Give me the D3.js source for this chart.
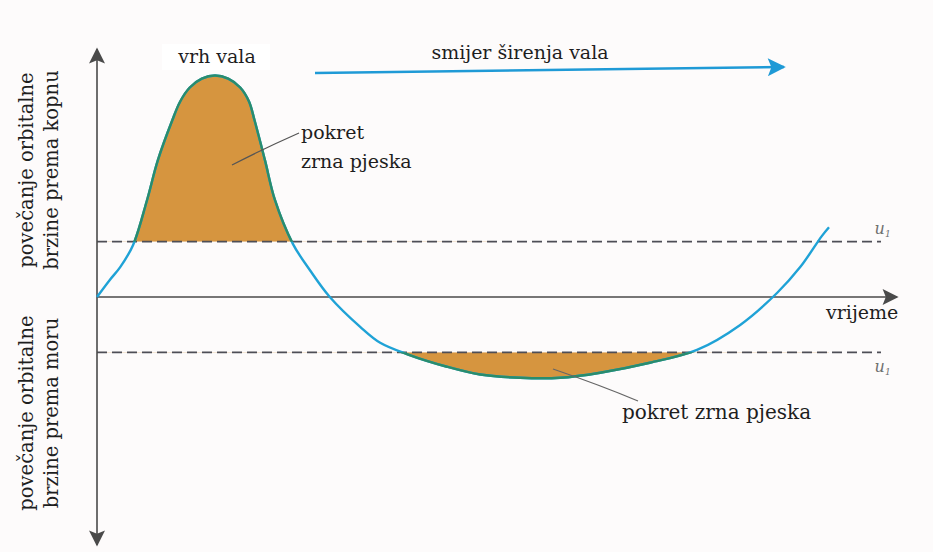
<!DOCTYPE html>
<html>
<head>
<meta charset="utf-8">
<script src="https://cdn.jsdelivr.net/npm/d3@7"></script>
<style>
  body { margin: 0; background: #fdfbfb; }
</style>
</head>
<body>
<script>
// wave orbital velocity vs time
var time = [0, 1.6, 2.9, 4.5, 6.25, 7.6, 9.4, 10.4, 11.6, 13.1, 14.75, 16.4, 17.9, 19.0, 19.7, 21, 22.25, 24.5,
            26.6, 29.1, 32.9, 35.4, 38.9, 43.75, 47.9, 52.9, 57.9, 62.9, 69.1, 75, 80.4, 85, 87.9, 90.6, 91.5];
var velocity = [0, 0.077, 0.135, 0.234, 0.437, 0.617, 0.797, 0.883, 0.946, 0.986, 1.0, 0.986, 0.946, 0.883, 0.797, 0.617, 0.437, 0.239,
                0.122, 0, -0.135, -0.207, -0.26, -0.315, -0.35, -0.365, -0.365, -0.342, -0.297, -0.239, -0.126, 0.018, 0.135, 0.275, 0.315];
var threshold = [0.25, -0.25];   // +u1 / -u1
var axisLabels = {
  x: "vrijeme",
  yUp: ["povečanje orbitalne", "brzine prema kopnu"],
  yDown: ["povečanje orbitalne", "brzine prema moru"]
};
var crestLabel = "vrh vala";
var directionLabel = "smijer širenja vala";
var sandLabelTop = ["pokret", "zrna pjeska"];
var sandLabelBottom = "pokret zrna pjeska";

var width = 933, height = 552;
var serif = "'DejaVu Serif', 'Liberation Serif', serif";
var ink = "#1e1e1e";
var data = time.map(function(t, i){ return {t: t, v: velocity[i]}; });

var svg = d3.select("body").append("svg")
    .attr("width", width)
    .attr("height", height)
    .attr("font-family", serif);

var x = d3.scaleLinear().domain([0, 100]).range([97, 897]);
var y = d3.scaleLinear().domain([-1.12, 1.12]).range([545, 49]);

var defs = svg.append("defs");
function arrow(id, color, w, h) {
  defs.append("marker")
      .attr("id", id)
      .attr("viewBox", "0 0 10 10")
      .attr("refX", 9).attr("refY", 5)
      .attr("markerWidth", w).attr("markerHeight", h)
      .attr("markerUnits", "userSpaceOnUse")
      .attr("orient", "auto")
    .append("path")
      .attr("d", "M0,0 L10,5 L0,10 L2,5 Z")
      .attr("fill", color);
}
arrow("arr-dark", "#4a4a4a", 20, 16);
arrow("arr-blue", "#1f9ad6", 28, 18);

// clip regions: above +u1 (crest only) and below -u1
defs.append("clipPath").attr("id", "clip-up")
  .append("rect").attr("x", 0).attr("y", 0)
  .attr("width", x(50)).attr("height", y(threshold[0]));
defs.append("clipPath").attr("id", "clip-down")
  .append("rect").attr("x", 0).attr("y", y(threshold[1]))
  .attr("width", width).attr("height", height - y(threshold[1]));

var curve = d3.curveCatmullRom.alpha(0.5);

// sand movement fills
threshold.forEach(function(u, i){
  svg.append("path")
      .datum(data)
      .attr("clip-path", "url(#" + (i === 0 ? "clip-up" : "clip-down") + ")")
      .attr("fill", "#d6953f")
      .attr("d", d3.area()
          .x(function(d){ return x(d.t); })
          .y0(y(u))
          .y1(function(d){ return y(d.v); })
          .curve(curve));
});

// threshold dashed lines
threshold.forEach(function(u){
  svg.append("line")
      .attr("x1", x(0)).attr("x2", x(98))
      .attr("y1", y(u)).attr("y2", y(u))
      .attr("stroke", "#4e4e56")
      .attr("stroke-width", 1.6)
      .attr("stroke-dasharray", "10,5");
});

// u1 labels
[[threshold[0], -8], [threshold[1], 20]].forEach(function(p){
  var t = svg.append("text")
      .attr("x", x(97.2))
      .attr("y", y(p[0]) + p[1])
      .attr("font-size", 16)
      .attr("font-style", "italic")
      .attr("fill", "#707070")
      .text("u");
  t.append("tspan").attr("font-size", 9).attr("dy", 3).text("1");
});

// axes
svg.append("line")
    .attr("x1", x(0)).attr("x2", x(100))
    .attr("y1", y(0)).attr("y2", y(0))
    .attr("stroke", "#4a4a4a").attr("stroke-width", 1.6)
    .attr("marker-end", "url(#arr-dark)");
svg.append("line")
    .attr("x1", x(0)).attr("x2", x(0))
    .attr("y1", y(0)).attr("y2", y(1.12))
    .attr("stroke", "#4a4a4a").attr("stroke-width", 1.6)
    .attr("marker-end", "url(#arr-dark)");
svg.append("line")
    .attr("x1", x(0)).attr("x2", x(0))
    .attr("y1", y(0)).attr("y2", y(-1.12))
    .attr("stroke", "#4a4a4a").attr("stroke-width", 1.6)
    .attr("marker-end", "url(#arr-dark)");

// velocity curve, blue, with greenish edge over the fills
var line = d3.line()
    .x(function(d){ return x(d.t); })
    .y(function(d){ return y(d.v); })
    .curve(curve);
svg.append("path").datum(data)
    .attr("fill", "none")
    .attr("stroke", "#1fa2d6")
    .attr("stroke-width", 2.4)
    .attr("d", line);
["clip-up", "clip-down"].forEach(function(c){
  svg.append("path").datum(data)
      .attr("clip-path", "url(#" + c + ")")
      .attr("fill", "none")
      .attr("stroke", "#2a8c6c")
      .attr("stroke-width", 2.4)
      .attr("d", line);
});

// wave direction arrow
svg.append("line")
    .attr("x1", 315).attr("y1", 73)
    .attr("x2", 784).attr("y2", 67)
    .attr("stroke", "#1f9ad6").attr("stroke-width", 2.6)
    .attr("marker-end", "url(#arr-blue)");
svg.append("text")
    .attr("x", 520).attr("y", 59)
    .attr("text-anchor", "middle")
    .attr("font-size", 19)
    .attr("fill", ink)
    .text(directionLabel);

// crest label in white box
svg.append("rect")
    .attr("x", 162).attr("y", 44)
    .attr("width", 108).attr("height", 26)
    .attr("fill", "#ffffff");
svg.append("text")
    .attr("x", 217).attr("y", 63)
    .attr("text-anchor", "middle")
    .attr("font-size", 19)
    .attr("fill", ink)
    .text(crestLabel);

// x axis label
svg.append("text")
    .attr("x", 826).attr("y", 319)
    .attr("font-size", 19)
    .attr("fill", ink)
    .text(axisLabels.x);

// sand movement labels with leaders
svg.append("path")
    .attr("d", "M232,165 Q265,148 299,133")
    .attr("fill", "none").attr("stroke", "#555").attr("stroke-width", 1.2);
svg.append("text")
    .attr("x", 301).attr("y", 139)
    .attr("font-size", 19)
    .attr("fill", ink)
    .selectAll("tspan")
    .data(sandLabelTop)
    .enter().append("tspan")
    .attr("x", 301)
    .attr("dy", function(d, i){ return i ? 29 : 0; })
    .text(function(d){ return d; });

svg.append("path")
    .attr("d", "M553,369 Q600,385 638,401")
    .attr("fill", "none").attr("stroke", "#666").attr("stroke-width", 1.2);
svg.append("text")
    .attr("x", 622).attr("y", 419)
    .attr("font-size", 20)
    .attr("fill", ink)
    .text(sandLabelBottom);

// rotated y labels
function yLabel(lines, cy) {
  var g = svg.append("g")
      .attr("transform", "translate(0," + cy + ") rotate(-90)");
  lines.forEach(function(s, i){
    g.append("text")
        .attr("x", 0).attr("y", 33 + i * 25)
        .attr("text-anchor", "middle")
        .attr("font-size", 19.5)
        .attr("fill", ink)
        .text(s);
  });
}
yLabel(axisLabels.yUp, 170);
yLabel(axisLabels.yDown, 413);
</script>
</body>
</html>
